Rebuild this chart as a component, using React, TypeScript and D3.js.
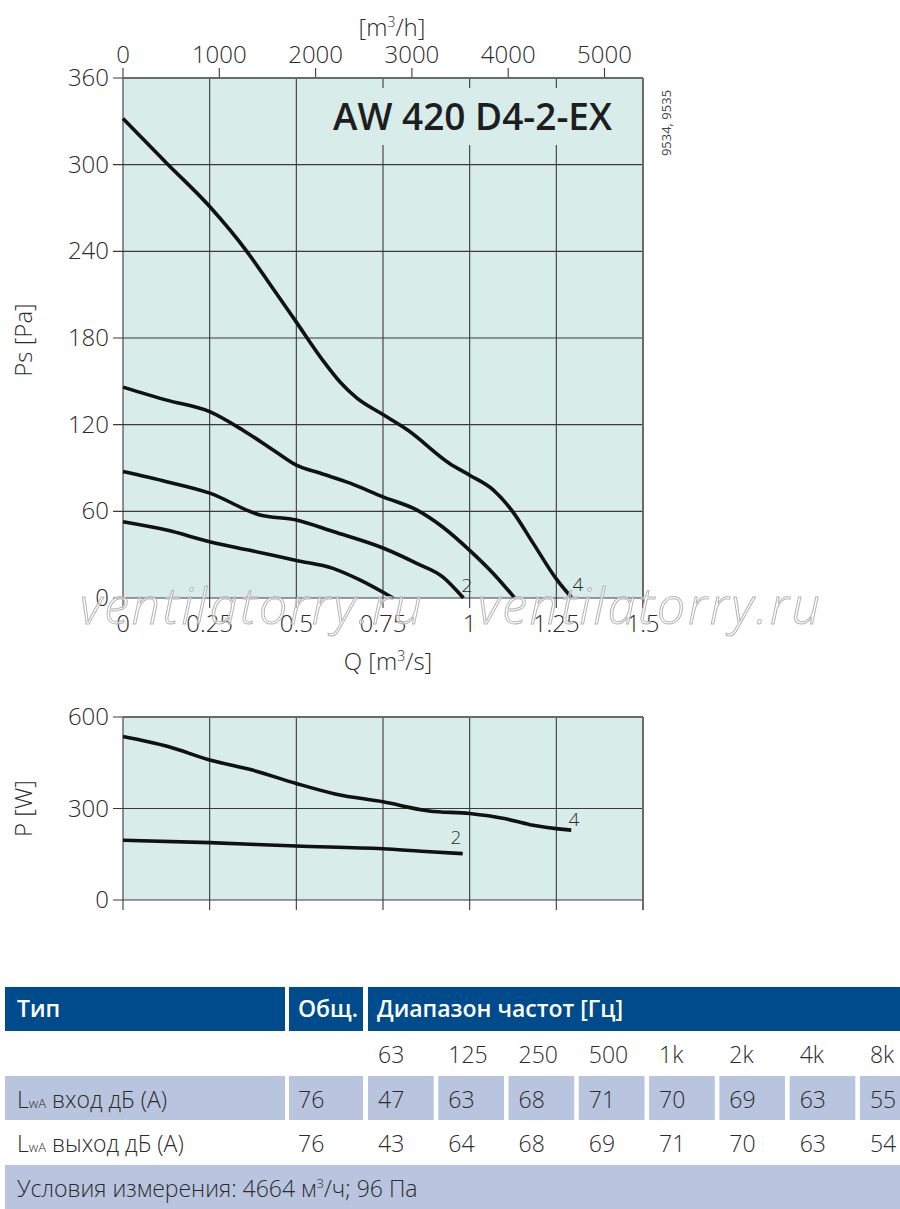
import { useEffect, useRef } from "react";
import * as d3 from "d3";

// fan curves, static pressure [Pa] vs flow [m3/s]
const curve1Q = [0, 0.126, 0.25, 0.366, 0.5, 0.606, 0.683, 0.779];
const curve1Ps = [52.8, 47, 39, 33, 26, 20.5, 12.5, 0];
const curve2Q = [0, 0.126, 0.25, 0.395, 0.5, 0.606, 0.75, 0.847, 0.923, 0.982];
const curve2Ps = [87.5, 80.5, 72.6, 57.5, 54, 46, 34.6, 24, 14.5, 0];
const curve3Q = [0, 0.126, 0.25, 0.347, 0.433, 0.5, 0.568, 0.655, 0.75, 0.847, 0.923, 1.0, 1.068, 1.13];
const curve3Ps = [146, 137, 129, 116, 102.5, 92, 86.5, 79.5, 70, 61, 49, 33, 17, 0];
const curve4Q = [0, 0.126, 0.25, 0.357, 0.419, 0.5, 0.578, 0.626, 0.674, 0.75, 0.82, 0.943, 1.0, 1.067, 1.125, 1.183, 1.252, 1.295];
const curve4Ps = [332, 301, 271, 240, 219, 191, 164, 149.5, 138.5, 127, 116.5, 93, 85, 75, 59.5, 38, 12.5, 0];

// input power [W]
const power2Q = [0, 0.25, 0.5, 0.75, 0.86, 0.98];
const power2P = [196, 188, 177, 168, 160, 152];
const power4Q = [0, 0.13, 0.25, 0.373, 0.5, 0.615, 0.75, 0.883, 1.0, 1.1, 1.174, 1.293];
const power4P = [536, 503, 459, 426, 382, 347, 322, 292, 283.5, 267, 247, 229];

const qTicks = [0, 0.25, 0.5, 0.75, 1, 1.25, 1.5];
const qTickLabels = ["0", "0.25", "0.5", "0.75", "1", "1.25", "1.5"];
const m3hTicks = [0, 1000, 2000, 3000, 4000, 5000];
const psTicks = [0, 60, 120, 180, 240, 300, 360];
const pTicks = [0, 300, 600];

// sound table
const freqBands = ["63", "125", "250", "500", "1k", "2k", "4k", "8k"];
const inletTotal = "76";
const inletBands = ["47", "63", "68", "71", "70", "69", "63", "55"];
const outletTotal = "76";
const outletBands = ["43", "64", "68", "69", "71", "70", "63", "54"];

const FONT = "'Open Sans', 'Noto Sans', sans-serif";
const TXT = "#2b2b2b";
const BG = "#d8ecea";
const HEAD = "#004b8b";
const ROW = "#b9c5df";

const App = () => {
  const ref = useRef<SVGSVGElement>(null);

  useEffect(() => {
    const svg = d3.select(ref.current);
    svg.selectAll("*").remove();

    const x = d3.scaleLinear().domain([0, 1.5]).range([123, 643]);
    const xTop = d3.scaleLinear().domain([0, 1.5 * 3600]).range([123, 643]);
    const yPs = d3.scaleLinear().domain([0, 360]).range([598, 78]);
    const yP = d3.scaleLinear().domain([0, 600]).range([900, 717]);

    const drawGrid = (
      y: d3.ScaleLinear<number, number>,
      yTicks: number[]
    ) => {
      const g = svg.append("g");
      const [y0, y1] = y.range();
      g.append("rect")
        .attr("x", x(0))
        .attr("y", y1)
        .attr("width", x(1.5) - x(0))
        .attr("height", y0 - y1)
        .attr("fill", BG);
      qTicks.forEach((q) => {
        g.append("line")
          .attr("x1", x(q))
          .attr("x2", x(q))
          .attr("y1", y1)
          .attr("y2", y0 + 10)
          .attr("stroke", "#3a3a3a")
          .attr("stroke-width", 1.1);
      });
      yTicks.forEach((v) => {
        g.append("line")
          .attr("x1", x(0) - 10)
          .attr("x2", x(1.5))
          .attr("y1", y(v))
          .attr("y2", y(v))
          .attr("stroke", "#3a3a3a")
          .attr("stroke-width", 1.1);
        g.append("text")
          .attr("x", x(0) - 14)
          .attr("y", y(v) + 8)
          .attr("text-anchor", "end")
          .attr("font-size", 24)
          .attr("font-weight", 300)
          .attr("fill", TXT)
          .text(v);
      });
      g.append("line")
        .attr("x1", x(1.5))
        .attr("x2", x(1.5))
        .attr("y1", y1)
        .attr("y2", y0 + 10)
        .attr("stroke", "#6a6a6a")
        .attr("stroke-width", 2);
      return g;
    };

    const line = d3
      .line<[number, number]>()
      .x((d) => d[0])
      .y((d) => d[1])
      .curve(d3.curveMonotoneX);

    const drawCurve = (
      qs: number[],
      vs: number[],
      y: d3.ScaleLinear<number, number>
    ) => {
      const pts = qs.map((q, i) => [x(q), y(vs[i])] as [number, number]);
      svg
        .append("path")
        .attr("d", line(pts) as string)
        .attr("fill", "none")
        .attr("stroke", "#111")
        .attr("stroke-width", 3.6)
        .attr("stroke-linecap", "butt");
    };

    svg.attr("font-family", FONT);

    // ---------- top chart ----------
    const gTop = drawGrid(yPs, psTicks);

    // title box hides gridlines
    gTop
      .append("rect")
      .attr("x", 330)
      .attr("y", 88)
      .attr("width", 290)
      .attr("height", 57)
      .attr("fill", BG);
    gTop
      .append("text")
      .attr("x", 612)
      .attr("y", 130)
      .attr("text-anchor", "end")
      .attr("font-size", 37)
      .attr("font-weight", 600)
      .attr("fill", "#1e1e1e")
      .text("AW 420 D4-2-EX");

    // bottom Q labels
    qTicks.forEach((q, i) => {
      gTop
        .append("text")
        .attr("x", x(q))
        .attr("y", 632)
        .attr("text-anchor", "middle")
        .attr("font-size", 24)
        .attr("font-weight", 300)
        .attr("fill", TXT)
        .text(qTickLabels[i]);
    });
    // top m3/h axis
    m3hTicks.forEach((v) => {
      gTop
        .append("line")
        .attr("x1", xTop(v))
        .attr("x2", xTop(v))
        .attr("y1", 68)
        .attr("y2", 78)
        .attr("stroke", "#3a3a3a")
        .attr("stroke-width", 1.1);
      gTop
        .append("text")
        .attr("x", xTop(v))
        .attr("y", 63)
        .attr("text-anchor", "middle")
        .attr("font-size", 24)
        .attr("font-weight", 300)
        .attr("fill", TXT)
        .text(v);
    });
    gTop
      .append("line")
      .attr("x1", x(0))
      .attr("x2", x(1.5))
      .attr("y1", 78)
      .attr("y2", 78)
      .attr("stroke", "#6a6a6a")
      .attr("stroke-width", 2);

    const m3h = gTop
      .append("text")
      .attr("x", 392)
      .attr("y", 36)
      .attr("text-anchor", "middle")
      .attr("font-size", 24)
      .attr("font-weight", 300)
      .attr("fill", TXT);
    m3h.append("tspan").text("[m");
    m3h.append("tspan").attr("dy", -9).attr("font-size", 14).text("3");
    m3h.append("tspan").attr("dy", 9).text("/h]");

    const qLabel = gTop
      .append("text")
      .attr("x", 388)
      .attr("y", 670)
      .attr("text-anchor", "middle")
      .attr("font-size", 24)
      .attr("font-weight", 300)
      .attr("fill", TXT);
    qLabel.append("tspan").text("Q [m");
    qLabel.append("tspan").attr("dy", -9).attr("font-size", 14).text("3");
    qLabel.append("tspan").attr("dy", 9).text("/s]");

    gTop
      .append("text")
      .attr("transform", "translate(32,340) rotate(-90)")
      .attr("text-anchor", "middle")
      .attr("font-size", 24)
      .attr("font-weight", 300)
      .attr("fill", TXT)
      .text("Ps [Pa]");

    gTop
      .append("text")
      .attr("transform", "translate(671,123) rotate(-90)")
      .attr("text-anchor", "middle")
      .attr("font-size", 13)
      .attr("fill", "#444")
      .text("9534, 9535");

    drawCurve(curve1Q, curve1Ps, yPs);
    drawCurve(curve2Q, curve2Ps, yPs);
    drawCurve(curve3Q, curve3Ps, yPs);
    drawCurve(curve4Q, curve4Ps, yPs);

    svg
      .append("text")
      .attr("x", 467)
      .attr("y", 592)
      .attr("text-anchor", "middle")
      .attr("font-size", 19)
      .attr("font-weight", 300)
      .attr("fill", TXT)
      .text("2");
    svg
      .append("text")
      .attr("x", 578)
      .attr("y", 591)
      .attr("text-anchor", "middle")
      .attr("font-size", 19)
      .attr("font-weight", 300)
      .attr("fill", TXT)
      .text("4");

    // watermark
    [80, 478].forEach((wx) => {
      svg
        .append("text")
        .attr("x", wx)
        .attr("y", 624)
        .attr("font-size", 50)
        .attr("font-style", "italic")
        .attr("font-weight", 300)
        .attr("textLength", 342)
        .attr("fill", "#ffffff")
        .attr("fill-opacity", 0.55)
        .attr("stroke", "#b5b5b5")
        .attr("stroke-width", 1)
        .text("ventilatorry.ru");
    });

    // ---------- bottom chart ----------
    const gBot = drawGrid(yP, pTicks);
    gBot
      .append("line")
      .attr("x1", x(0))
      .attr("x2", x(1.5))
      .attr("y1", yP(600))
      .attr("y2", yP(600))
      .attr("stroke", "#6a6a6a")
      .attr("stroke-width", 2);
    gBot
      .append("text")
      .attr("transform", `translate(32,${yP(300)}) rotate(-90)`)
      .attr("text-anchor", "middle")
      .attr("font-size", 24)
      .attr("font-weight", 300)
      .attr("fill", TXT)
      .text("P [W]");

    drawCurve(power2Q, power2P, yP);
    drawCurve(power4Q, power4P, yP);

    svg
      .append("text")
      .attr("x", 456)
      .attr("y", 844)
      .attr("text-anchor", "middle")
      .attr("font-size", 19)
      .attr("font-weight", 300)
      .attr("fill", TXT)
      .text("2");
    svg
      .append("text")
      .attr("x", 574)
      .attr("y", 826)
      .attr("text-anchor", "middle")
      .attr("font-size", 19)
      .attr("font-weight", 300)
      .attr("fill", TXT)
      .text("4");

    // ---------- sound table ----------
    const tbl = svg.append("g");
    const bandX = d3
      .scaleBand<number>()
      .domain(d3.range(8))
      .range([368, 368 + 8 * 69.7])
      .paddingInner(0.065)
      .paddingOuter(0);
    const rowTop = [987, 1031, 1076, 1120, 1165];
    const rowH = 44;

    const cell = (cx: number, cy: number, w: number, fill: string) =>
      tbl
        .append("rect")
        .attr("x", cx)
        .attr("y", cy)
        .attr("width", w)
        .attr("height", rowH)
        .attr("fill", fill);

    const txt = (
      tx: number,
      ty: number,
      s: string,
      fill = TXT,
      weight: number | string = 300
    ) =>
      tbl
        .append("text")
        .attr("x", tx)
        .attr("y", ty)
        .attr("font-size", 23)
        .attr("font-weight", weight)
        .attr("fill", fill)
        .text(s);

    // header
    cell(5, rowTop[0], 280, HEAD);
    cell(289, rowTop[0], 74, HEAD);
    cell(368, rowTop[0], 540, HEAD);
    txt(17, 1017, "Тип", "#fff", 600);
    txt(298, 1017, "Общ.", "#fff", 600);
    txt(377, 1017, "Диапазон частот [Гц]", "#fff", 600);

    // band labels
    freqBands.forEach((f, i) => txt((bandX(i) as number) + 10, 1063, f));

    // inlet row
    cell(5, rowTop[2], 280, ROW);
    cell(289, rowTop[2], 74, ROW);
    freqBands.forEach((_, i) =>
      cell(bandX(i) as number, rowTop[2], bandX.bandwidth(), ROW)
    );

    const lwa = (ty: number, rest: string) => {
      const t = txt(17, ty, "");
      t.append("tspan").text("L");
      t.append("tspan").attr("font-size", 13).text("wA");
      t.append("tspan").attr("dx", 6).text(rest);
    };
    lwa(1108, "вход дБ (A)");
    txt(298, 1108, inletTotal);
    inletBands.forEach((v, i) => txt((bandX(i) as number) + 10, 1108, v));

    // outlet row
    lwa(1152, "выход дБ (A)");
    txt(298, 1152, outletTotal);
    outletBands.forEach((v, i) => txt((bandX(i) as number) + 10, 1152, v));

    // conditions
    cell(5, rowTop[4], 900, ROW);
    const cond = txt(17, 1197, "");
    cond.append("tspan").text("Условия измерения: 4664 м");
    cond.append("tspan").attr("dy", -9).attr("font-size", 13).text("3");
    cond.append("tspan").attr("dy", 9).text("/ч; 96 Па");
  }, []);

  return (
    <svg
      ref={ref}
      width={900}
      height={1209}
      style={{ position: "absolute", left: 0, top: 0, background: "#fff" }}
    />
  );
};

export default App;
